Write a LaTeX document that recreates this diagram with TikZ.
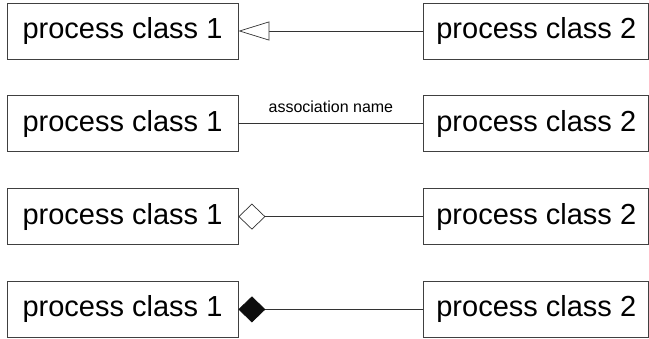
\documentclass[tikz,border=0pt]{standalone}
\usepackage{fontspec}
\setmainfont{Liberation Sans}
\usetikzlibrary{arrows.meta,positioning}

\begin{document}
\begin{tikzpicture}[x=1pt, y=-1pt, node distance=36pt and 185pt,
  cls/.style={draw=black!75, line width=0.8pt, minimum width=231pt, minimum height=56pt,
    inner sep=0pt, font=\fontsize{29}{34}\selectfont},
  cls2/.style={cls, minimum width=225pt},
  link/.style={draw=black!80, line width=0.7pt}]
  \useasboundingbox (0,0) rectangle (649,339);
  % left column
  \node[cls] (p1) at (122.5,31) {process class 1};
  \node[cls, below=of p1] (q1) {process class 1};
  \node[cls, below=of q1] (r1) {process class 1};
  \node[cls, below=of r1] (s1) {process class 1};
  % right column
  \node[cls2, right=of p1] (p2) {process class 2};
  \node[cls2, right=of q1] (q2) {process class 2};
  \node[cls2, right=of r1] (r2) {process class 2};
  \node[cls2, right=of s1] (s2) {process class 2};
  % relations
  \draw[link, -{Triangle[open, length=31pt, width=19pt, fill=white]}] (p2) -- (p1);
  \draw[link] (q1) -- (q2) node[midway, above=7pt, font=\fontsize{16}{19}\selectfont] {association name};
  \draw[link, -{Diamond[open, length=27pt, width=26pt, fill=white]}] (r2) -- (r1);
  \draw[link, -{Diamond[length=27pt, width=26pt, color=black!95]}] (s2) -- (s1);
\end{tikzpicture}
\end{document}
